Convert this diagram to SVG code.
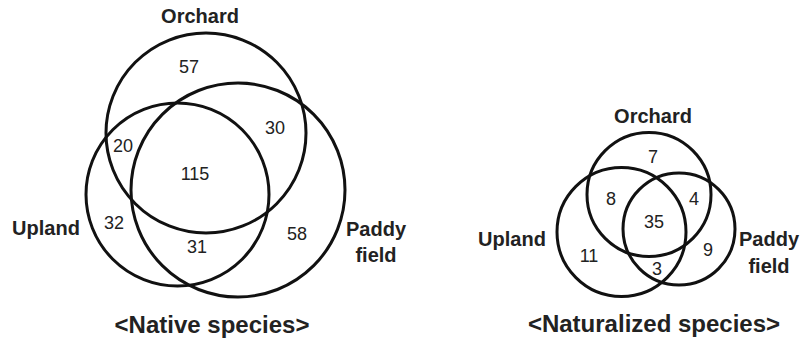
<svg xmlns="http://www.w3.org/2000/svg" width="800" height="342" viewBox="0 0 800 342">
<style>
.c{fill:none;stroke:#111;stroke-width:3}
.lb{font-family:"Liberation Sans",Arial,sans-serif;font-weight:bold;font-size:20px;fill:#222;text-anchor:middle}
.n{font-family:"Liberation Sans",Arial,sans-serif;font-size:18px;fill:#222;text-anchor:middle}
.t{font-family:"Liberation Sans",Arial,sans-serif;font-weight:bold;font-size:24px;fill:#222;text-anchor:middle}
</style>
<rect width="800" height="342" fill="#fff"/>
<g id="native">
<g id="n-orchard"><circle class="c" cx="206" cy="133" r="100"/><text class="lb" x="200" y="23">Orchard</text></g>
<g id="n-upland"><circle class="c" cx="177.5" cy="194.5" r="91.5"/><text class="lb" x="46" y="235">Upland</text></g>
<g id="n-paddy"><circle class="c" cx="238" cy="190" r="107"/><text class="lb" x="376" y="236">Paddy</text><text class="lb" x="376" y="262">field</text></g>
<g id="n-counts">
<text class="n" x="189" y="73">57</text>
<text class="n" x="123" y="152">20</text>
<text class="n" x="275" y="134">30</text>
<text class="n" x="195" y="180">115</text>
<text class="n" x="114" y="229">32</text>
<text class="n" x="297" y="240">58</text>
<text class="n" x="197" y="253">31</text>
</g>
<text class="t" x="212" y="333">&lt;Native species&gt;</text>
</g>
<g id="naturalized">
<g id="z-orchard"><circle class="c" cx="649" cy="194.5" r="62"/><text class="lb" x="653" y="123">Orchard</text></g>
<g id="z-upland"><circle class="c" cx="621.5" cy="232" r="64.5"/><text class="lb" x="512" y="246">Upland</text></g>
<g id="z-paddy"><circle class="c" cx="679" cy="229" r="56"/><text class="lb" x="769" y="246">Paddy</text><text class="lb" x="769" y="273">field</text></g>
<g id="z-counts">
<text class="n" x="653" y="163">7</text>
<text class="n" x="611" y="205">8</text>
<text class="n" x="694" y="205">4</text>
<text class="n" x="654" y="228">35</text>
<text class="n" x="589" y="262">11</text>
<text class="n" x="708" y="256">9</text>
<text class="n" x="657" y="275">3</text>
</g>
<text class="t" x="654" y="332">&lt;Naturalized species&gt;</text>
</g>
<g id="connectors"/>
</svg>
